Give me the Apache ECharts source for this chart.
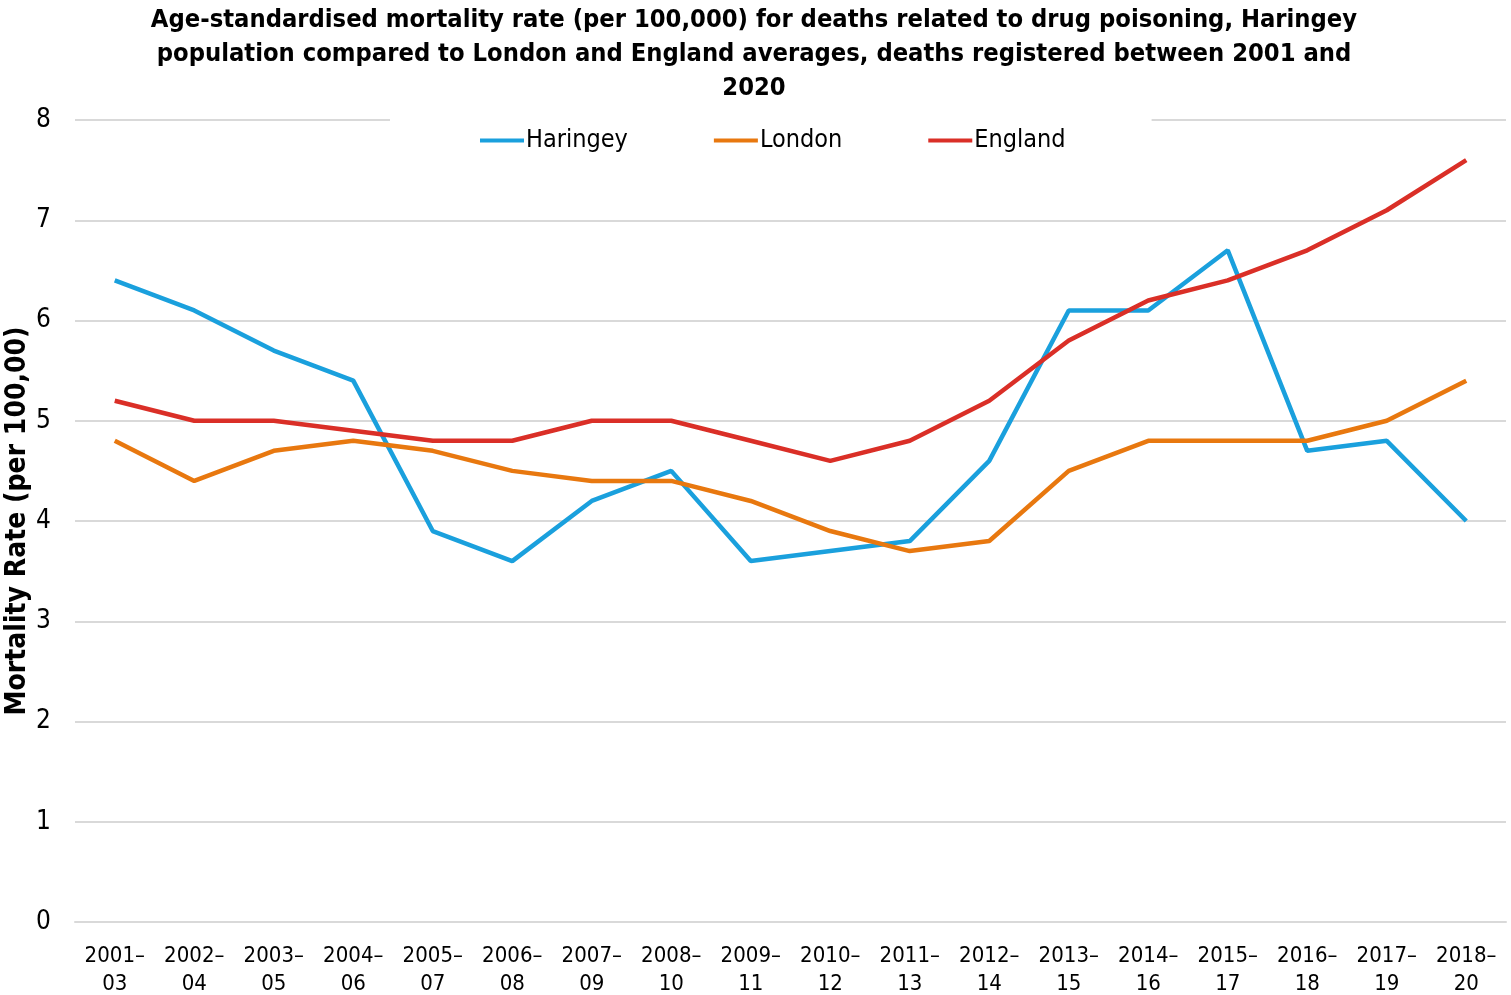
<!DOCTYPE html>
<html><head><meta charset="utf-8">
<script src="https://cdn.jsdelivr.net/npm/echarts@6/dist/echarts.min.js"></script>
<style>html,body{margin:0;padding:0;background:#fff}#c{width:1511px;height:995px}</style>
</head><body><div id="c"></div>
<script>
const categories = ['2001–\n03','2002–\n04','2003–\n05','2004–\n06','2005–\n07','2006–\n08','2007–\n09','2008–\n10','2009–\n11','2010–\n12','2011–\n13','2012–\n14','2013–\n15','2014–\n16','2015–\n17','2016–\n18','2017–\n19','2018–\n20'];
const haringey = [6.4,6.1,5.7,5.4,3.9,3.6,4.2,4.5,3.6,3.7,3.8,4.6,6.1,6.1,6.7,4.7,4.8,4.0];
const london = [4.8,4.4,4.7,4.8,4.7,4.5,4.4,4.4,4.2,3.9,3.7,3.8,4.5,4.8,4.8,4.8,5.0,5.4];
const england = [5.2,5.0,5.0,4.9,4.8,4.8,5.0,5.0,4.8,4.6,4.8,5.2,5.8,6.2,6.4,6.7,7.1,7.6];
const yTicks = [0,1,2,3,4,5,6,7,8];
const FONT = '"DejaVu Sans Condensed","DejaVu Sans",sans-serif';
const chart = echarts.init(document.getElementById('c'));
chart.setOption({
  animation:false,
  title:{
    text:'Age-standardised mortality rate (per 100,000) for deaths related to drug poisoning, Haringey\npopulation compared to London and England averages, deaths registered between 2001 and\n2020',
    left:749, textAlign:'center', top:-2,
    textStyle:{fontFamily:FONT,fontWeight:'bold',fontSize:25.3,lineHeight:34,color:'#000'}
  },
  legend:{
    top:116, left:390, width:762, itemGap:86,
    backgroundColor:'#fff', padding:[12,86,12,90],
    icon:'rect', itemWidth:44, itemHeight:4, itemStyle:{borderWidth:0},
    textStyle:{fontFamily:FONT,fontSize:25,color:'#000',padding:[0,0,0,-3]},
    data:['Haringey','London','England']
  },
  grid:{left:75,right:5,top:120,bottom:73,containLabel:false,outerBoundsMode:'none'},
  xAxis:{
    type:'category', data:categories, boundaryGap:true,
    axisLine:{lineStyle:{color:'#d9d9d9',width:2}}, axisTick:{show:false},
    axisLabel:{fontFamily:FONT,fontSize:22,color:'#000',lineHeight:28,margin:20,interval:0}
  },
  yAxis:{
    type:'value', min:0, max:8, interval:1,
    name:'Mortality Rate (per 100,00)', nameLocation:'middle', nameGap:43, nameMoveOverlap:false,
    nameTextStyle:{fontFamily:FONT,fontWeight:'bold',fontSize:28,color:'#000'},
    axisLine:{show:false}, axisTick:{show:false},
    splitLine:{lineStyle:{color:'#d9d9d9',width:2}},
    axisLabel:{fontFamily:FONT,fontSize:26,color:'#000',margin:24,
      formatter:v=>yTicks.includes(v)?String(v):''}
  },
  series:[
    {name:'Haringey',type:'line',data:haringey,symbol:'none',lineStyle:{width:4.5,color:'#1aa0dd'},itemStyle:{color:'#1aa0dd'}},
    {name:'London',type:'line',data:london,symbol:'none',lineStyle:{width:4.5,color:'#e8780f'},itemStyle:{color:'#e8780f'}},
    {name:'England',type:'line',data:england,symbol:'none',lineStyle:{width:4.5,color:'#da2f27'},itemStyle:{color:'#da2f27'}}
  ]
});
</script></body></html>
